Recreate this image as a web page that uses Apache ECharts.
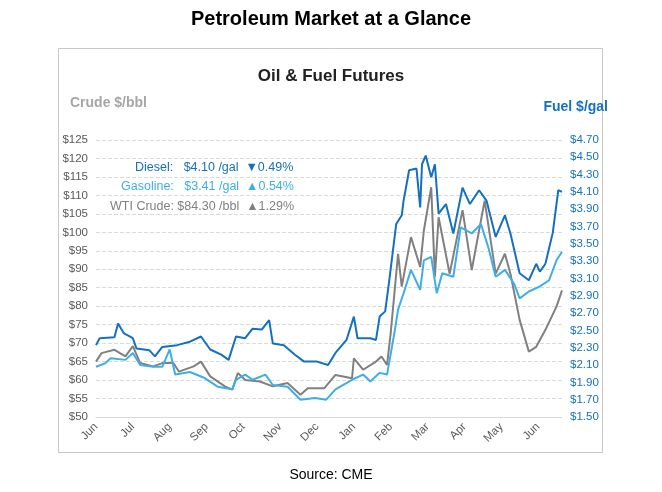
<!DOCTYPE html>
<html><head><meta charset="utf-8">
<script src="https://cdn.jsdelivr.net/npm/echarts@6/dist/echarts.min.js"></script>
<style>body{margin:0;background:#fff}#c{width:662px;height:492px}</style>
</head><body><div id="c"></div>
<script>
// x = months since start of June
var months = ['Jun','Jul','Aug','Sep','Oct','Nov','Dec','Jan','Feb','Mar','Apr','May','Jun'];
var leftTicks = [50,125]; // crude $/bbl
var rightTicks = [1.5,4.7]; // fuel $/gal

var dieselX = [0,0.1,0.5,0.6,0.75,1.0,1.1,1.45,1.6,1.8,2.2,2.55,2.85,3.1,3.4,3.6,3.8,4.05,4.25,4.5,4.7,4.8,5.1,5.4,5.65,6.0,6.3,6.5,6.8,7.0,7.1,7.45,7.6,7.7,7.85,7.95,8.15,8.3,8.35,8.5,8.7,8.8,8.85,8.95,9.1,9.2,9.3,9.5,9.7,9.95,10.15,10.4,10.6,10.85,11.1,11.25,11.5,11.75,11.95,12.05,12.2,12.4,12.5,12.55,12.65];
var dieselY = [2.33,2.41,2.42,2.58,2.47,2.41,2.29,2.27,2.20,2.31,2.33,2.37,2.43,2.28,2.22,2.16,2.43,2.41,2.52,2.51,2.62,2.35,2.33,2.22,2.14,2.14,2.10,2.24,2.39,2.66,2.41,2.41,2.39,2.66,2.72,3.04,3.73,3.83,4.00,4.35,4.37,3.92,4.42,4.52,4.27,4.42,3.85,3.96,3.62,4.15,3.96,4.12,4.00,3.58,3.83,3.62,3.16,3.08,3.27,3.18,3.27,3.63,3.96,4.12,4.10];

var gasX = [0,0.25,0.4,0.8,1.0,1.2,1.55,1.8,2.0,2.15,2.55,2.95,3.3,3.7,3.8,4.05,4.25,4.6,4.8,5.2,5.55,5.95,6.25,6.5,6.95,7.25,7.45,7.7,7.9,8.1,8.2,8.35,8.55,8.8,8.9,9.1,9.25,9.4,9.7,9.9,10.2,10.45,10.65,10.85,11.1,11.35,11.5,11.75,12.05,12.3,12.5,12.65];
var gasY = [2.08,2.12,2.18,2.16,2.24,2.10,2.08,2.08,2.28,1.99,2.02,1.95,1.85,1.82,1.93,1.99,1.93,1.99,1.87,1.85,1.70,1.72,1.70,1.82,1.93,1.99,1.91,2.01,1.99,2.47,2.74,2.93,3.20,2.97,3.31,3.35,2.93,3.16,3.12,3.69,3.62,3.73,3.46,3.12,3.20,3.04,2.87,2.95,3.01,3.08,3.31,3.41];

var crudeX = [0,0.15,0.5,0.8,1.0,1.2,1.55,1.8,2.1,2.25,2.65,2.85,3.1,3.5,3.7,3.85,4.05,4.45,4.8,5.2,5.55,5.75,6.2,6.5,6.95,7.0,7.25,7.6,7.75,7.9,8.0,8.2,8.3,8.55,8.8,8.9,9.1,9.2,9.3,9.6,9.95,10.2,10.55,10.85,11.1,11.25,11.5,11.75,11.95,12.2,12.5,12.65];
var crudeY = [65,67.3,68.2,66.4,69.2,64.6,63.7,64.6,64.6,62.3,63.7,65,61,58.3,57.4,61.9,60,59.6,58.3,59.2,56,57.8,57.8,61.4,60.5,65.9,62.8,65,66.4,64.1,72.7,94.2,85.3,98.7,90.6,100.5,112.2,88,104.1,88.8,106,89.8,108.6,88.8,94.2,88.8,76.3,67.7,69,73.6,79.9,84.3];

function pairs(xs, ys){ return xs.map(function(x,i){ return [x, ys[i]]; }); }

var cDiesel = '#1470c0', cGas = '#3faee6', cCrude = '#808080';
var chart = echarts.init(document.getElementById('c'));
var lab = {fontFamily:'Liberation Sans, Arial', fontSize:11.5};
chart.setOption({
  backgroundColor:'#fff',
  animation:false,
  graphic:[
    {type:'text', left:'center', top:9, style:{text:'Petroleum Market at a Glance', font:'bold 20px Liberation Sans, Arial', fill:'#000'}},
    {type:'rect', shape:{x:58.5, y:48.5, width:544, height:404}, style:{fill:'none', stroke:'#c8c8c8', lineWidth:1}},
    {type:'text', left:'center', top:68, style:{text:'Oil & Fuel Futures', font:'bold 17px Liberation Sans, Arial', fill:'#222'}},
    {type:'text', left:70, top:96, style:{text:'Crude $/bbl', font:'bold 14px Liberation Sans, Arial', fill:'#a6a6a6'}},
    {type:'text', right:54, top:100, style:{text:'Fuel $/gal', font:'bold 14px Liberation Sans, Arial', fill:cDiesel}},
    {type:'text', left:135, top:161, style:{text:'Diesel:   $4.10 /gal  \u25BC0.49%', font:'12.5px Liberation Sans, Arial', fill:cDiesel}},
    {type:'text', left:121, top:180, style:{text:'Gasoline:   $3.41 /gal  \u25B20.54%', font:'12.5px Liberation Sans, Arial', fill:cGas}},
    {type:'text', left:110, top:200, style:{text:'WTI Crude: $84.30 /bbl  \u25B21.29%', font:'12.5px Liberation Sans, Arial', fill:cCrude}},
    {type:'text', left:'center', top:468, style:{text:'Source: CME', font:'14px Liberation Sans, Arial', fill:'#000'}}
  ],
  grid:{left:96, right:100, top:140, bottom:75},
  xAxis:{type:'value', min:0, max:12.65, interval:1,
    axisLine:{lineStyle:{color:'#d9d9d9'}}, axisTick:{show:false}, splitLine:{show:false},
    axisLabel:Object.assign({color:'#595959', rotate:45, margin:8, showMaxLabel:false,
      formatter:function(v){ return months[Math.round(v)] || ''; }}, lab)},
  yAxis:[
    {type:'value', min:leftTicks[0], max:leftTicks[1], interval:5,
      axisLine:{show:false}, axisTick:{show:false},
      axisLabel:Object.assign({color:'#595959', formatter:'${value}'}, lab),
      splitLine:{lineStyle:{type:'dashed', color:'#d9d9d9'}}},
    {type:'value', min:rightTicks[0], max:rightTicks[1], interval:0.2,
      axisLine:{show:false}, axisTick:{show:false},
      axisLabel:Object.assign({color:cDiesel, formatter:function(v){return '$'+v.toFixed(2);}}, lab),
      splitLine:{show:false}}
  ],
  series:[
    {name:'WTI Crude', type:'line', yAxisIndex:0, data:pairs(crudeX,crudeY), symbol:'none', lineStyle:{color:cCrude, width:2}},
    {name:'Gasoline', type:'line', yAxisIndex:1, data:pairs(gasX,gasY), symbol:'none', lineStyle:{color:cGas, width:2}},
    {name:'Diesel', type:'line', yAxisIndex:1, data:pairs(dieselX,dieselY), symbol:'none', lineStyle:{color:cDiesel, width:2}}
  ]
});
</script></body></html>
